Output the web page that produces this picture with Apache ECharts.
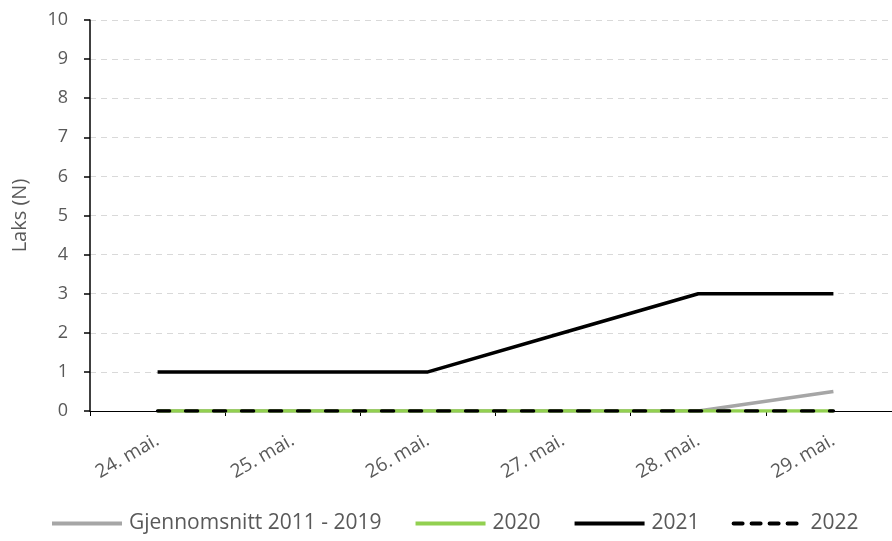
<!DOCTYPE html>
<html>
<head>
<meta charset="utf-8">
<script src="https://cdn.jsdelivr.net/npm/echarts@6/dist/echarts.min.js"></script>
<style>
  html, body { margin: 0; padding: 0; background: #fff; }
  #chart { width: 892px; height: 541px; }
</style>
</head>
<body>
<div id="chart"></div>
<script>
// data
var days = ['24. mai.', '25. mai.', '26. mai.', '27. mai.', '28. mai.', '29. mai.'];
var snitt = [0, 0, 0, 0, 0, 0.5];
var y2020 = [0, 0, 0, 0, 0, 0];
var y2021 = [1, 1, 1, 2, 3, 3];
var y2022 = [0, 0, 0, 0, 0, 0];

var font = 'Open Sans';
var txt = '#595959';

var myChart = echarts.init(document.getElementById('chart'));
var option = {
  animation: false,
  textStyle: { fontFamily: font },
  grid: { left: 90, width: 811, top: 20, height: 391, outerBoundsMode: 'none', containLabel: false },
  legend: {
    top: 508,
    left: 45,
    itemWidth: 70,
    itemHeight: 14,
    itemGap: 32,
    itemStyle: { opacity: 0 },
    lineStyle: { width: 4 },
    textStyle: { fontFamily: font, fontSize: 21, color: txt, padding: [0, 0, 0, 2] },
    data: [
      { name: 'Gjennomsnitt 2011 - 2019' },
      { name: '2020' },
      { name: '2021' },
      { name: '2022', lineStyle: { type: [9, 9], cap: 'round', width: 4 } }
    ]
  },
  xAxis: {
    type: 'category',
    boundaryGap: true,
    data: days,
    axisLine: { lineStyle: { color: '#000', width: 1 } },
    axisTick: { show: true, alignWithLabel: false, length: 5, lineStyle: { color: '#000' } },
    axisLabel: { rotate: 30, color: txt, fontSize: 19, margin: 28 }
  },
  yAxis: {
    type: 'value',
    min: 0, max: 10, interval: 1,
    name: 'Laks (N)',
    nameLocation: 'middle',
    nameGap: 60,
    nameTextStyle: { color: txt, fontSize: 20 },
    axisLine: { show: true, lineStyle: { color: '#000', width: 1.5 } },
    axisTick: { show: true, inside: false, length: 6, lineStyle: { color: '#000', width: 1.5 } },
    axisLabel: { color: txt, fontSize: 18, margin: 22 },
    splitLine: { lineStyle: { color: '#d9d9d9', type: [6, 5], width: 1 } }
  },
  series: [
    {
      name: 'Gjennomsnitt 2011 - 2019', type: 'line', data: snitt,
      symbol: 'none', z: 2,
      lineStyle: { color: '#a6a6a6', width: 3.5 }, itemStyle: { color: '#a6a6a6' }
    },
    {
      name: '2020', type: 'line', data: y2020,
      symbol: 'none', z: 3,
      lineStyle: { color: '#92d050', width: 3.5 }, itemStyle: { color: '#92d050' }
    },
    {
      name: '2021', type: 'line', data: y2021,
      symbol: 'none', z: 4,
      lineStyle: { color: '#000', width: 3.5 }, itemStyle: { color: '#000' }
    },
    {
      name: '2022', type: 'line', data: y2022,
      symbol: 'none', z: 5,
      lineStyle: { color: '#000', width: 3.5, type: [12, 16], cap: 'round' }, itemStyle: { color: '#000' }
    }
  ]
};
myChart.setOption(option);
</script>
</body>
</html>
